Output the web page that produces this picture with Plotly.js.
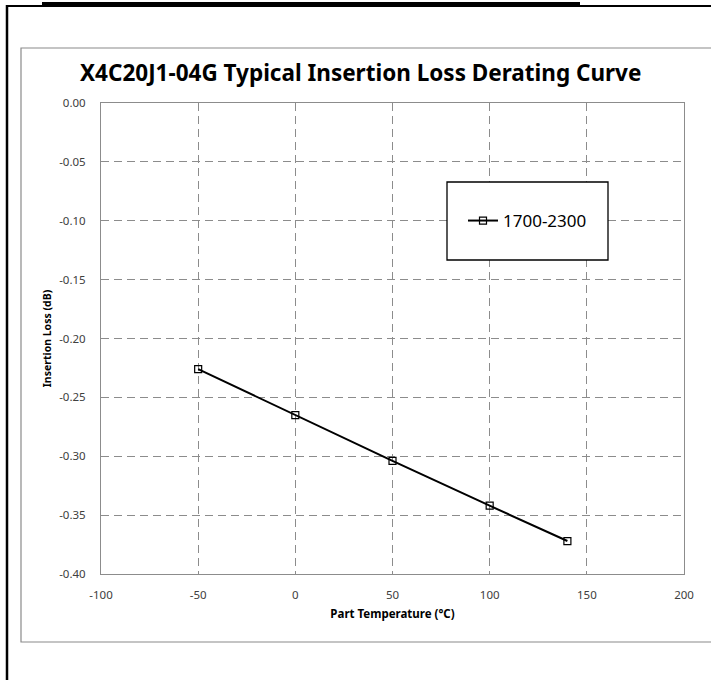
<!DOCTYPE html>
<html>
<head>
<meta charset="utf-8">
<script src="https://cdn.plot.ly/plotly-3.0.1.min.js"></script>
<style>html,body{margin:0;padding:0;background:#fff;}#chart{width:711px;height:680px;}</style>
</head>
<body>
<div id="chart"></div>
<script>
// Data
const temperatures = [-50, 0, 50, 100, 140];
const insertionLoss = [-0.226, -0.265, -0.304, -0.342, -0.372];
const seriesName = "1700-2300";
const chartTitle = "X4C20J1-04G Typical Insertion Loss Derating Curve";
const xTitle = "Part Temperature (°C)";
const yTitle = "Insertion Loss (dB)";
const xTickVals = [-100, -50, 0, 50, 100, 150, 200];
const xTickText = ["-100", "-50", "0", "50", "100", "150", "200"];
const yTickVals = [0, -0.05, -0.10, -0.15, -0.20, -0.25, -0.30, -0.35, -0.40];
const yTickText = ["0.00", "-0.05", "-0.10", "-0.15", "-0.20", "-0.25", "-0.30", "-0.35", "-0.40"];

// pixel helpers for decorative frame shapes (plot area 101..684 x, 103..574 y)
const L = 101, R = 684, T = 103, B = 574;
const px = v => (v - L) / (R - L);
const py = v => (B - v) / (B - T);

const trace = {
  x: temperatures,
  y: insertionLoss,
  name: seriesName,
  type: 'scatter',
  mode: 'lines+markers',
  line: {color: '#000000', width: 2},
  marker: {symbol: 'square-open', size: 7, color: '#000000', line: {width: 1.2, color: '#000000'}},
  showlegend: true
};

const gridColor = '#8c8c8c';
const layout = {
  width: 711, height: 680,
  margin: {l: L, r: 711 - R, t: T, b: 680 - B},
  paper_bgcolor: '#ffffff', plot_bgcolor: '#ffffff',
  font: {family: 'Noto Sans, sans-serif', color: '#404040'},
  title: {
    text: chartTitle,
    font: {family: 'Noto Sans, sans-serif', size: 22.5, color: '#000000', weight: 'bold'},
    x: 80 / 711, xanchor: 'left', y: 1 - 73 / 680, yanchor: 'middle'
  },
  xaxis: {
    range: [-100, 200], tickmode: 'array', tickvals: xTickVals, ticktext: xTickText,
    showgrid: true, gridcolor: gridColor, griddash: '8px,5px', gridwidth: 1,
    zeroline: false, showline: true, mirror: true, linecolor: gridColor, linewidth: 1,
    ticks: '', ticklabelstandoff: 10,
    tickfont: {size: 11.5, color: '#404040'},
    title: {text: xTitle, font: {size: 11.5, color: '#000000', weight: 'bold'}, standoff: 9}
  },
  yaxis: {
    range: [-0.4, 0], tickmode: 'array', tickvals: yTickVals, ticktext: yTickText,
    showgrid: true, gridcolor: gridColor, griddash: '8px,5px', gridwidth: 1,
    zeroline: false, showline: true, mirror: true, linecolor: gridColor, linewidth: 1,
    ticks: '', ticklabelstandoff: 12,
    tickfont: {size: 11.5, color: '#404040'},
    title: {text: yTitle, font: {size: 10.5, color: '#000000', weight: 'bold'}, standoff: 5}
  },
  legend: {
    x: px(463), y: py(221), xanchor: 'left', yanchor: 'middle',
    bgcolor: 'rgba(0,0,0,0)', borderwidth: 0,
    font: {size: 17, color: '#000000'}
  },
  shapes: [
    // outer chart frame (gray)
    {type: 'rect', xref: 'paper', yref: 'paper', x0: px(21), x1: px(714), y0: py(642), y1: py(48),
     line: {color: '#8a8a8a', width: 1.2}, fillcolor: 'rgba(0,0,0,0)', layer: 'below'},
    // legend box
    {type: 'rect', xref: 'paper', yref: 'paper', x0: px(447), x1: px(608), y0: py(260), y1: py(182),
     line: {color: '#000000', width: 1.3}, fillcolor: '#ffffff', layer: 'above'},
    // page border lines (black)
    {type: 'line', xref: 'paper', yref: 'paper', x0: px(7), x1: px(711), y0: py(6), y1: py(6),
     line: {color: '#000000', width: 2}},
    {type: 'line', xref: 'paper', yref: 'paper', x0: px(7), x1: px(7), y0: py(5), y1: py(681),
     line: {color: '#000000', width: 2.5}},
    // thick bar at top
    {type: 'rect', xref: 'paper', yref: 'paper', x0: px(42), x1: px(580), y0: py(7), y1: py(2),
     line: {width: 0}, fillcolor: '#000000'}
  ]
};

Plotly.newPlot('chart', [trace], layout, {displayModeBar: false, staticPlot: true});
</script>
</body>
</html>
